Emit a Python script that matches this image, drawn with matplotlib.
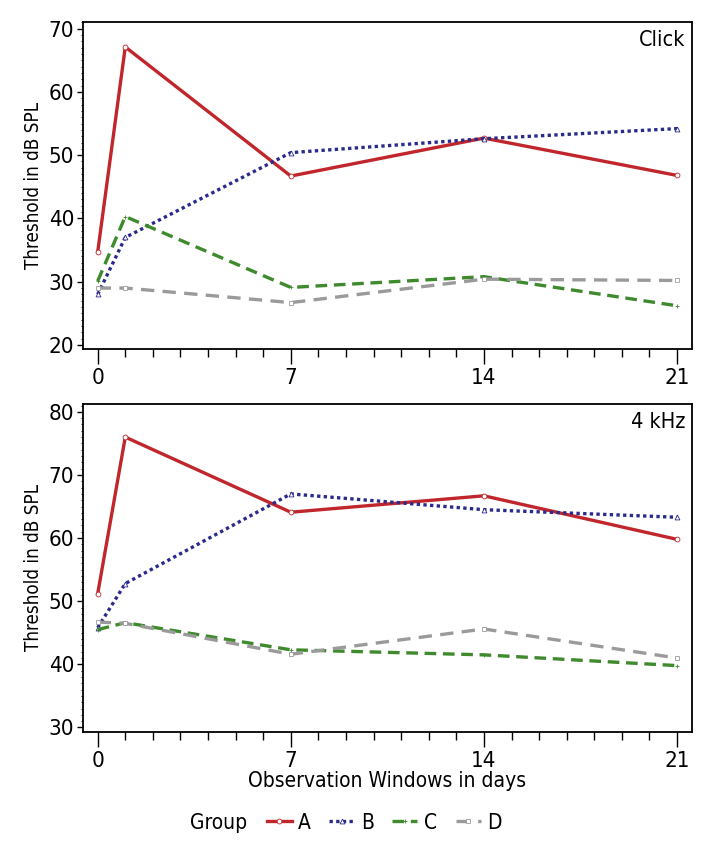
import numpy as np
import matplotlib.pyplot as plt
from matplotlib.ticker import MultipleLocator
from matplotlib.offsetbox import HPacker

plt.rcParams['font.family'] = ['DejaVu Sans']
plt.rcParams['font.stretch'] = 'condensed'

# Dados
days = [0, 1, 7, 14, 21]
groups = ['A', 'B', 'C', 'D']

click_a = [34.7, 67.1, 46.7, 52.7, 46.8]
click_b = [28.0, 37.0, 50.4, 52.6, 54.2]
click_c = [30.1, 40.3, 29.1, 30.8, 26.2]
click_d = [29.0, 29.0, 26.7, 30.4, 30.2]

khz_a = [51.2, 76.0, 64.1, 66.7, 59.8]
khz_b = [45.8, 52.8, 67.0, 64.5, 63.3]
khz_c = [45.5, 46.6, 42.3, 41.5, 39.8]
khz_d = [46.7, 46.5, 41.6, 45.6, 41.0]

colors = ['#c0262c', '#2a2a8c', '#3e8a2c', '#9a9a9a']
styles = ['-', (0, (1, 1)), (0, (3.5, 2)), (0, (4, 2.5))]
markers = ['o', '^', '+', 's']

fig = plt.figure(figsize=(7.2, 8.57), dpi=100)
ax1 = fig.add_axes([0.115, 0.593, 0.846, 0.381])
ax2 = fig.add_axes([0.115, 0.146, 0.846, 0.383])


def desenhar(ax, series, ylim, label):
    for vals, c, ls, m, g in zip(series, colors, styles, markers, groups):
        ax.plot(days, vals, color=c, linestyle=ls, linewidth=2.4,
                marker=m, markersize=3.5, markerfacecolor='white',
                markeredgewidth=0.6, label=g)
    ax.set_xlim(-0.54, 21.54)
    ax.set_ylim(*ylim)
    ax.set_xticks([0, 7, 14, 21])
    ax.xaxis.set_minor_locator(MultipleLocator(1))
    ax.yaxis.set_major_locator(MultipleLocator(10))
    ax.yaxis.set_minor_locator(MultipleLocator(1))
    ax.tick_params(axis='x', which='major', length=11, width=1, labelsize=16, pad=3)
    ax.tick_params(axis='x', which='minor', length=6, width=1)
    ax.tick_params(axis='y', which='major', length=4, width=1, labelsize=16, pad=2)
    ax.tick_params(axis='y', which='minor', length=1.5, width=0.6)
    for s in ax.spines.values():
        s.set_linewidth(1.3)
    ax.set_ylabel('Threshold in dB SPL', fontsize=13.5, labelpad=4)
    ax.text(0.99, 0.975, label, transform=ax.transAxes, ha='right', va='top',
            fontsize=15.5)


desenhar(ax1, [click_a, click_b, click_c, click_d], (19.4, 71.0), 'Click')
desenhar(ax2, [khz_a, khz_b, khz_c, khz_d], (29.3, 81.3), '4 kHz')
ax2.set_xlabel('Observation Windows in days', fontsize=15, labelpad=0)

handles, labels = ax2.get_legend_handles_labels()
fig.legend(handles, labels, loc='center', bbox_to_anchor=(0.48, 0.04), ncol=4,
           frameon=False, fontsize=15, title='Group', title_fontsize=15,
           handlelength=1.2, handletextpad=0.3, columnspacing=0.9)
leg = fig.legends[0]
# título ao lado das entradas
title_box = leg._legend_title_box
entries = leg._legend_handle_box
leg._legend_box._children = [HPacker(pad=0, sep=14, children=[title_box, entries], align='center')]

fig.savefig('out.png', dpi=100)
